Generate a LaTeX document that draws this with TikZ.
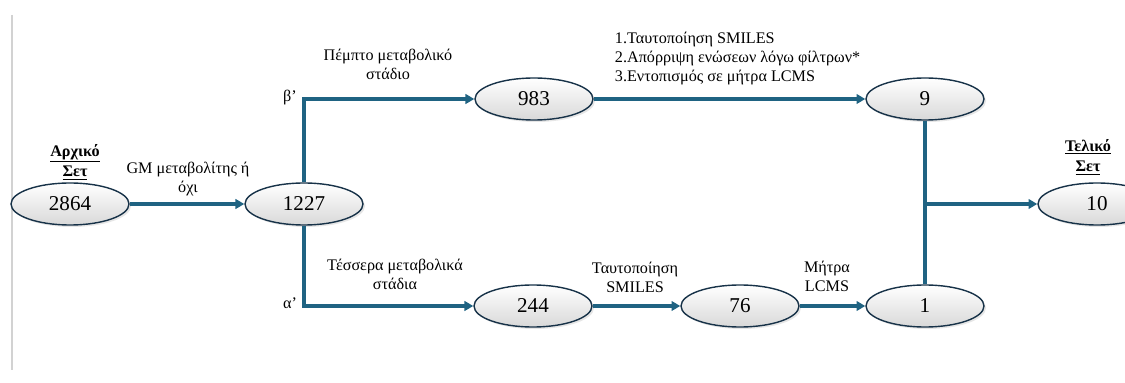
\documentclass[tikz,border=0pt]{standalone}
\usepackage{fontspec}
\setmainfont{Liberation Serif}
\usetikzlibrary{arrows.meta,shapes.geometric,shadows}
\definecolor{flowblue}{RGB}{31,99,130}
\definecolor{rimnavy}{RGB}{23,50,72}
\tikzset{
  setnode/.style={ellipse, draw=rimnavy, line width=1pt, top color=white, bottom color=gray!30,
    minimum width=29.5mm, minimum height=10.5mm, inner sep=0pt,
    font=\fontsize{15}{18}\selectfont,
    drop shadow={opacity=0.2, shadow xshift=0.5mm, shadow yshift=-0.5mm}},
  flow/.style={draw=flowblue, line width=2.4pt, -{Triangle[length=2.2mm,width=2.4mm]}},
  trunk/.style={draw=flowblue, line width=2.4pt},
  lbl/.style={font=\fontsize{11.5}{13.5}\selectfont, align=center},
  setlbl/.style={font=\bfseries\fontsize{11.5}{14.5}\selectfont, align=center},
}
\begin{document}
\begin{tikzpicture}[x=0.25mm, y=-0.25mm]
  \useasboundingbox (0,0) rectangle (1125,383);
  % page rule on the left
  \draw[gray!35, line width=0.8pt] (12,15) -- (12,370);
  % sets
  \node[setnode] (n2864) at (70,204) {2864};
  \node[setnode] (n1227) at (304,204) {1227};
  \node[setnode] (n983) at (534,99) {983};
  \node[setnode] (n9) at (925,99) {9};
  \node[setnode] (n244) at (533,306) {244};
  \node[setnode] (n76) at (740,306) {76};
  \node[setnode] (n1) at (925,306) {1};
  \node[setnode] (n10) at (1097,204) {10};
  % titles
  \node[setlbl] (start) at (75,162) {\underline{Αρχικό}\\\underline{Σετ}};
  \node[setlbl] (final) at (1088,157) {\underline{Τελικό}\\\underline{Σετ}};
  % labels
  \node[lbl] (gm) at (188,179) {GM μεταβολίτης ή\\όχι};
  \node[lbl] (fifth) at (388,64) {Πέμπτο μεταβολικό\\στάδιο};
  \node[lbl] (four) at (395,274) {Τέσσερα μεταβολικά\\στάδια};
  \node[lbl, align=left, anchor=west] (steps) at (610,59) {1.Ταυτοποίηση SMILES\\2.Απόρριψη ενώσεων λόγω φίλτρων*\\3.Εντοπισμός σε μήτρα LCMS};
  \node[lbl] (smiles) at (635,277) {Ταυτοποίηση\\SMILES};
  \node[lbl] (lcms) at (827,276) {Μήτρα\\LCMS};
  \node[lbl] (beta) at (290,98) {β’};
  \node[lbl] (alpha) at (290,303) {α’};
  % connectors
  \draw[flow] (n2864) -- (n1227);
  \draw[flow] (n1227.north) |- (n983);
  \draw[flow] (n1227.south) |- (n244);
  \draw[flow] (n983) -- (n9);
  \draw[flow] (n244) -- (n76);
  \draw[flow] (n76) -- (n1);
  \draw[trunk] (n9) -- (n1);
  \coordinate (merge) at (n9.south |- n10.west);
  \draw[flow] (merge) -- (n10);
\end{tikzpicture}
\end{document}
